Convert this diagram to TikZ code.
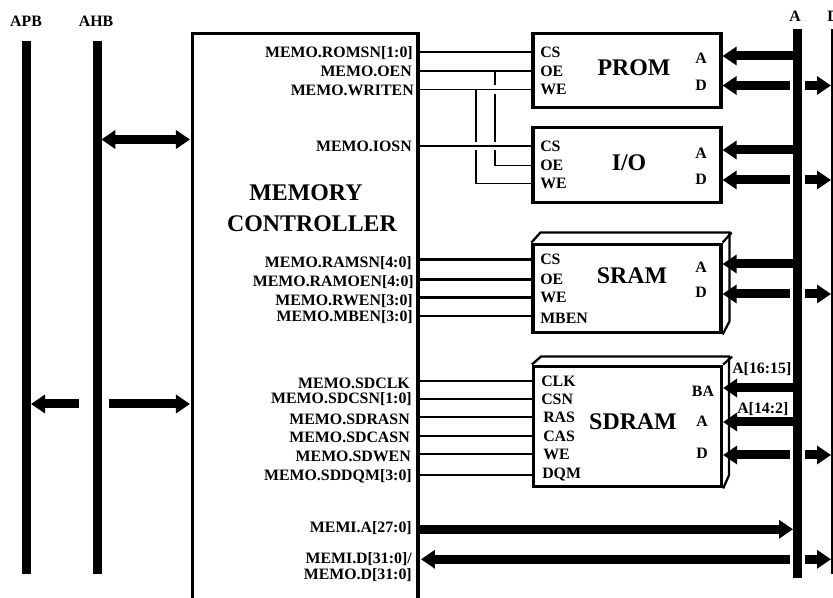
\documentclass[tikz,border=0pt]{standalone}
\usepackage{fontspec}
\setmainfont{Liberation Serif}
\usetikzlibrary{arrows.meta}
\tikzset{
  busbar/.style={fill=black,inner sep=0pt,outer sep=0pt,minimum width=6.75pt},
  chipbox/.style={draw,line width=2.4pt,inner sep=0pt,minimum width=141pt},
  sidefold/.style={line width=1.7pt,line join=miter},
  wire/.style={line width=1.4pt},
  widewire/.style={line width=1.8pt},
  busarrow/.style={line width=6.75pt,-{Triangle[length=10.5pt,width=13.5pt]}},
  pinname/.style={font=\fontsize{11.9}{12}\bfseries\selectfont,inner sep=0pt,text height=8pt,text depth=0pt},
  signame/.style={pinname,anchor=east},
  pinleft/.style={pinname,anchor=west},
  chiptitle/.style={font=\fontsize{17.9}{20}\bfseries\selectfont,inner sep=0pt}
}
\begin{document}
\begin{tikzpicture}[x=0.75pt,y=-0.75pt]
  \useasboundingbox (0,0) rectangle (833,598);
  % buses
  \node[busbar,minimum height=399.75pt] (apb) at (26.5,307.5) {};
  \node[busbar,minimum height=399.75pt] (ahb) at (97.5,307.5) {};
  \node[busbar,minimum height=411.75pt] (abus) at (797.5,303.5) {};
  \node[fill=black,inner sep=0pt,outer sep=0pt,minimum width=1.5pt,minimum height=408.75pt] (dbus) at (832,301.5) {};
  \node[pinname] (apblabel) at (26,21) {APB};
  \node[pinname] (ahblabel) at (96,21) {AHB};
  \node[pinname] (alabel) at (795,16) {A};
  \node[pinname,anchor=west] (dlabel) at (827,16) {D};
  % controller, open at the bottom
  \node[inner sep=0pt,outer sep=0pt,minimum width=169.1pt,minimum height=423.2pt] (ctrl) at (305.25,315.85) {};
  \draw[line width=2.4pt] (ctrl.south west) |- (ctrl.north east) -- (ctrl.south east);
  \node[chiptitle] (ctrltop) at (306,193) {MEMORY};
  \node[chiptitle] (ctrlbot) at (312,224) {CONTROLLER};
  % chips
  \node[chipbox,minimum height=56pt] (prom) at (627,70.5) {};
  \node[chipbox,minimum height=56.5pt] (io) at (627,165) {};
  \node[chipbox,minimum height=66.5pt] (sram) at (627,288.5) {};
  \node[chipbox,minimum height=90.5pt] (sdram) at (627.5,426.5) {};
  % raised edges of sram and sdram
  \draw[sidefold] (sram.north west) -- ++(9,-10) -- ++(189,0) -- ++(0,89) -- (sram.south east);
  \draw[sidefold] (sram.north east) -- ++(9,-10);
  \draw[sidefold] (sdram.north west) -- ++(9,-8) -- ++(188,0) -- ++(0,119) -- (sdram.south east);
  \draw[sidefold] (sdram.north east) -- ++(9,-8);
  \node[chiptitle] (promtitle) at (634,68) {PROM};
  \node[chiptitle] (iotitle) at (629,163) {I/O};
  \node[chiptitle] (sramtitle) at (632,276) {SRAM};
  \node[chiptitle] (sdramtitle) at (633,422) {SDRAM};
  % pins on the left of the chips
  \node[pinleft] (promcs) at (540,52) {CS}; \node[pinleft] (promoe) at (540,71) {OE}; \node[pinleft] (promwe) at (540,89.5) {WE};
  \node[pinleft] (iocs) at (540,146) {CS}; \node[pinleft] (iooe) at (540,165.5) {OE}; \node[pinleft] (iowe) at (540,183.5) {WE};
  \node[pinleft] (sramcs) at (540,259.5) {CS}; \node[pinleft] (sramoe) at (540,279.5) {OE};
  \node[pinleft] (sramwe) at (540,297.5) {WE}; \node[pinleft] (srammb) at (540,318) {MBEN};
  \node[pinleft] (sdclk) at (541,381) {CLK}; \node[pinleft] (sdcsn) at (541,399) {CSN};
  \node[pinleft] (sdras) at (543,417) {RAS}; \node[pinleft] (sdcas) at (543,436) {CAS};
  \node[pinleft] (sdwe) at (543,454) {WE}; \node[pinleft] (sddqm) at (542,473) {DQM};
  % pins on the right of the chips
  \node[pinname] (promaddr) at (701,58) {A}; \node[pinname] (promdata) at (701,85) {D};
  \node[pinname] (ioaddr) at (701,153) {A}; \node[pinname] (iodata) at (701,179) {D};
  \node[pinname] (sramaddr) at (701,267) {A}; \node[pinname] (sramdata) at (701,292) {D};
  \node[pinname] (sdba) at (703,391) {BA}; \node[pinname] (sdaddr) at (702,421) {A}; \node[pinname] (sddata) at (702,453) {D};
  \node[pinname,anchor=west] (sdbabits) at (732,368) {A[16:15]};
  \node[pinname,anchor=west] (sdaddrbits) at (737,408) {A[14:2]};
  % signals of the controller
  \node[signame] (romsn) at (413,52) {MEMO.ROMSN[1:0]};
  \node[signame] (oen) at (412,71) {MEMO.OEN};
  \node[signame] (writen) at (414,90) {MEMO.WRITEN};
  \node[signame] (iosn) at (412,146) {MEMO.IOSN};
  \node[signame] (ramsn) at (412,262) {MEMO.RAMSN[4:0]};
  \node[signame] (ramoen) at (414,281) {MEMO.RAMOEN[4:0]};
  \node[signame] (rwen) at (413,300) {MEMO.RWEN[3:0]};
  \node[signame] (mben) at (413,316) {MEMO.MBEN[3:0]};
  \node[signame] (sdclk2) at (410,383) {MEMO.SDCLK};
  \node[signame] (sdcsn2) at (412,398) {MEMO.SDCSN[1:0]};
  \node[signame] (sdrasn) at (410,419) {MEMO.SDRASN};
  \node[signame] (sdcasn) at (410,437) {MEMO.SDCASN};
  \node[signame] (sdwen) at (411,456) {MEMO.SDWEN};
  \node[signame] (sdqm) at (412,475) {MEMO.SDDQM[3:0]};
  \node[signame] (memia) at (412,527) {MEMI.A[27:0]};
  \node[signame] (memid) at (412,558) {MEMI.D[31:0]/};
  \node[signame] (memod) at (412,574) {MEMO.D[31:0]};
  % wires to the chips
  \draw[wire] (ctrl.east |- promcs) -- (prom.west |- promcs);
  \draw[wire] (ctrl.east |- promoe) -- (prom.west |- promoe);
  \draw[wire] (ctrl.east |- promwe) -- (prom.west |- promwe);
  \draw[wire] (ctrl.east |- iocs) -- (io.west |- iocs);
  \coordinate (oetap) at (495,71);
  \coordinate (wetap) at (476,89.5);
  \draw[wire] (oetap) -- ++(0,14) ++(0,9) -- ++(0,48) ++(0,8) |- (io.west |- iooe);
  \draw[wire] (wetap) -- ++(0,53) ++(0,8) |- (io.west |- iowe);
  \draw[widewire] (ctrl.east |- sramcs) -- (sram.west |- sramcs);
  \draw[widewire] (ctrl.east |- sramoe) -- (sram.west |- sramoe);
  \draw[widewire] (ctrl.east |- sramwe) -- (sram.west |- sramwe);
  \draw[widewire] (ctrl.east |- mben) -- (sram.west |- mben);
  \draw[wire] (ctrl.east |- sdclk) -- (sdram.west |- sdclk);
  \draw[widewire] (ctrl.east |- sdcsn) -- (sdram.west |- sdcsn);
  \draw[wire] (ctrl.east |- sdras) -- (sdram.west |- sdras);
  \draw[wire] (ctrl.east |- sdcas) -- (sdram.west |- sdcas);
  \draw[wire] (ctrl.east |- sdwe) -- (sdram.west |- sdwe);
  \draw[widewire] (ctrl.east |- sdqm) -- (sdram.west |- sdqm);
  % ahb and apb arrows
  \coordinate (ahbpos) at (0,139.5);
  \coordinate (apbpos) at (0,404);
  \draw[busarrow,{Triangle[length=10.5pt,width=13.5pt]}-{Triangle[length=10.5pt,width=13.5pt]},shorten >=1.9pt,shorten <=-0.5pt] (ahb.east |- ahbpos) -- (ctrl.west |- ahbpos);
  \draw[busarrow,shorten <=10.5pt] (ahb.west |- apbpos) -- (apb.east |- apbpos);
  \draw[busarrow,shorten <=5.25pt,shorten >=1.9pt] (ahb.east |- apbpos) -- (ctrl.west |- apbpos);
  % address and data arrows on the right
  \coordinate (promapos) at (0,56); \coordinate (promdpos) at (0,85.5);
  \coordinate (ioapos) at (0,150); \coordinate (iodpos) at (0,180);
  \coordinate (sramapos) at (0,264); \coordinate (sramdpos) at (0,294);
  \coordinate (sdbapos) at (0,388); \coordinate (sdapos) at (0,422); \coordinate (sddpos) at (0,455);
  \coordinate (memapos) at (0,529.3); \coordinate (memdpos) at (0,559.3);
  \draw[busarrow] (abus.west |- promapos) -- (prom.east |- promapos);
  \draw[busarrow] (abus.west |- ioapos) -- (io.east |- ioapos);
  \draw[busarrow] (abus.west |- sramapos) -- (sram.east |- sramapos);
  \draw[busarrow] (abus.west |- sdbapos) -- (sdram.east |- sdbapos);
  \draw[busarrow] (abus.west |- sdapos) -- (sdram.east |- sdapos);
  \draw[busarrow] (ctrl.east |- memapos) -- (abus.west |- memapos);
  \draw[busarrow,shorten <=2.25pt] (abus.west |- promdpos) -- (prom.east |- promdpos);
  \draw[busarrow,shorten <=2.25pt] (abus.west |- iodpos) -- (io.east |- iodpos);
  \draw[busarrow,shorten <=2.25pt] (abus.west |- sramdpos) -- (sram.east |- sramdpos);
  \draw[busarrow,shorten <=2.25pt] (abus.west |- sddpos) -- (sdram.east |- sddpos);
  \draw[busarrow,shorten <=2.25pt,shorten >=2.25pt] (abus.west |- memdpos) -- (ctrl.east |- memdpos);
  \draw[busarrow,shorten <=2.25pt] (abus.east |- promdpos) -- (dbus.west |- promdpos);
  \draw[busarrow,shorten <=2.25pt] (abus.east |- iodpos) -- (dbus.west |- iodpos);
  \draw[busarrow,shorten <=2.25pt] (abus.east |- sramdpos) -- (dbus.west |- sramdpos);
  \draw[busarrow,shorten <=2.25pt] (abus.east |- sddpos) -- (dbus.west |- sddpos);
  \draw[busarrow,shorten <=2.25pt] (abus.east |- memdpos) -- (dbus.west |- memdpos);
\end{tikzpicture}
\end{document}
